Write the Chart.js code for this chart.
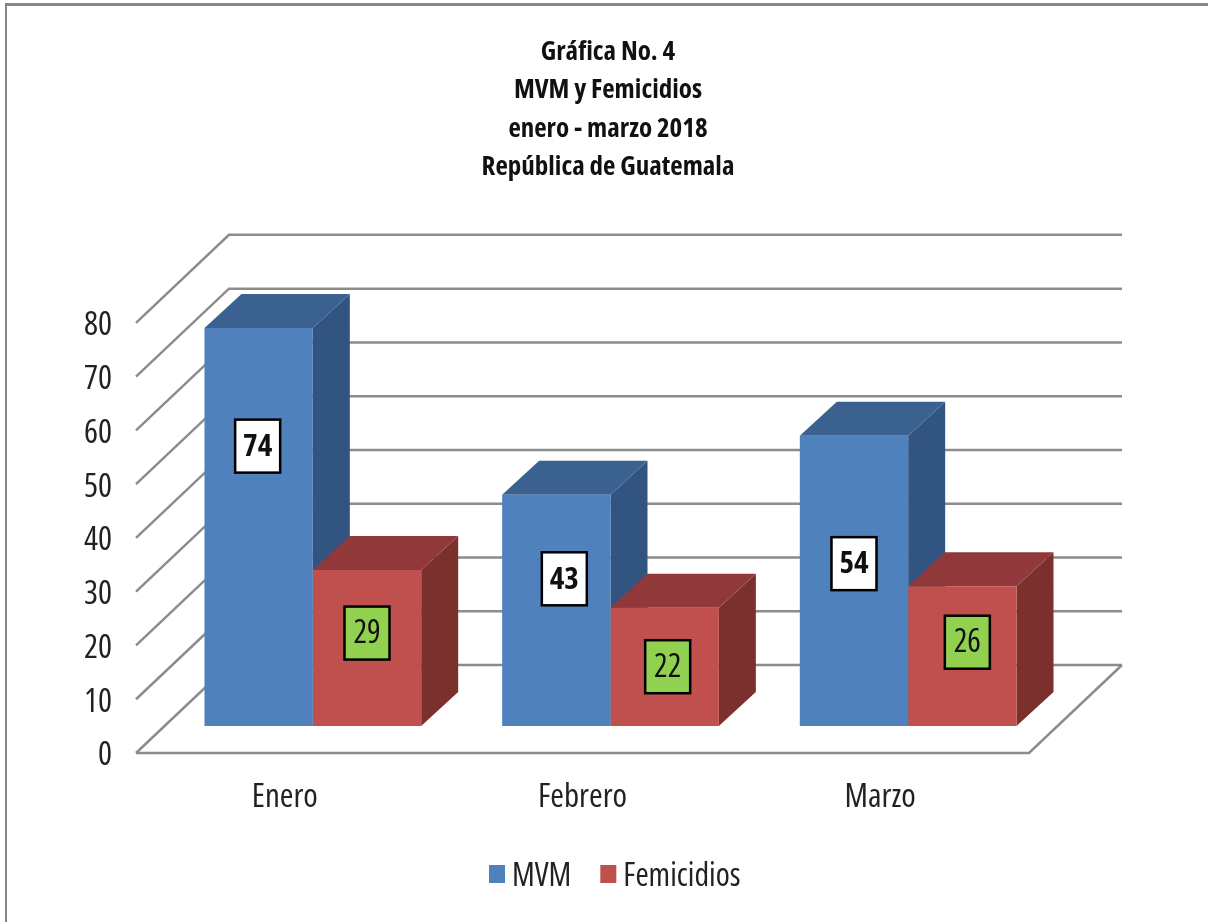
<!DOCTYPE html>
<html>
<head>
<meta charset="utf-8">
<title>MVM y Femicidios</title>
<script src="https://cdn.jsdelivr.net/npm/chart.js@4"></script>
<style>
  html, body { margin: 0; padding: 0; background: #fff; overflow: hidden; }
  #wrap { position: relative; width: 1208px; height: 922px; }
  #frame { position: absolute; left: 5px; top: 3px; right: 0; bottom: 0; border-left: 2px solid #868686; border-top: 3px solid #868686; }
  canvas { position: absolute; left: 0; top: 0; }
</style>
</head>
<body>
<div id="wrap">
  <div id="frame"></div>
  <canvas id="chart" width="1208" height="922"></canvas>
</div>
<script>
const titleLines = ['Gráfica No. 4', 'MVM y Femicidios', 'enero - marzo 2018', 'República de Guatemala'];
const months = ['Enero', 'Febrero', 'Marzo'];
const mvm = [74, 43, 54];
const femicidios = [29, 22, 26];

const FONT = '"Open Sans", sans-serif';
const GRID = '#8c8c8c';
const TEXT = '#222';

// fake 3D depth, px
const wall = { dx: 93, dy: 61 };   // back wall, from the scale's own y
const front = { dx: 28, dy: 27 };  // front floor edge
const depth = { dx: 37, dy: 34 };  // bar depth

// where each value box sits relative to the bar top (hand placed in the original)
const labelShift = [
  { dx: [-1, 8, 0], dy: [118, 84, 128], fill: '#ffffff', font: 'bold condensed 31px ' + FONT },
  { dx: [0, 3, 5], dy: [63, 59, 56], fill: '#92d050', font: 'condensed 32px ' + FONT }
];

const faces = [
  { top: '#3b6190', side: '#325480' },
  { top: '#91393a', side: '#7c302e' }
];

const poly = (ctx, pts, fill) => {
  ctx.beginPath();
  pts.forEach((p, i) => i ? ctx.lineTo(p[0], p[1]) : ctx.moveTo(p[0], p[1]));
  ctx.closePath();
  ctx.fillStyle = fill;
  ctx.fill();
};

const box3d = {
  id: 'box3d',
  beforeDatasetsDraw(chart) {
    const { ctx, chartArea: a, scales: { y } } = chart;
    const frontX = a.left - front.dx, backX = a.left - front.dx + wall.dx;
    const rightX = a.right + 65;
    ctx.save();
    ctx.strokeStyle = GRID;
    ctx.lineWidth = 2.5;
    y.ticks.forEach(t => {
      const py = y.getPixelForValue(t.value);
      ctx.beginPath();
      ctx.moveTo(frontX, py + front.dy);
      ctx.lineTo(backX, py - wall.dy);
      ctx.lineTo(rightX, py - wall.dy);
      if (t.value === 0) {
        ctx.moveTo(frontX, py + front.dy);
        ctx.lineTo(rightX - wall.dx, py + front.dy);
        ctx.lineTo(rightX, py - wall.dy);
      }
      ctx.stroke();
    });
    // bar tops and sides go under the fronts
    chart.data.datasets.forEach((ds, d) => {
      chart.getDatasetMeta(d).data.forEach(bar => {
        const l = bar.x - bar.width / 2, r = bar.x + bar.width / 2;
        poly(ctx, [[r, bar.y], [r + depth.dx, bar.y - depth.dy], [r + depth.dx, bar.base - depth.dy], [r, bar.base]], faces[d].side);
        poly(ctx, [[l, bar.y], [l + depth.dx, bar.y - depth.dy], [r + depth.dx, bar.y - depth.dy], [r, bar.y]], faces[d].top);
      });
    });
    ctx.restore();
  },
  afterDatasetsDraw(chart) {
    const { ctx } = chart;
    ctx.save();
    ctx.textAlign = 'center';
    ctx.textBaseline = 'middle';
    chart.data.datasets.forEach((ds, d) => {
      const s = labelShift[d];
      chart.getDatasetMeta(d).data.forEach((bar, i) => {
        const cx = bar.x + s.dx[i], cy = bar.y + s.dy[i];
        ctx.fillStyle = s.fill;
        ctx.fillRect(cx - 22.5, cy - 26.5, 45, 53);
        ctx.strokeStyle = '#000';
        ctx.lineWidth = 2.5;
        ctx.strokeRect(cx - 22.5, cy - 26.5, 45, 53);
        ctx.fillStyle = '#111';
        ctx.font = s.font;
        ctx.fillText(ds.data[i], cx, cy + 1);
      });
    });
    ctx.restore();
  },
  // built-in legend can't do the tight gap between swatch and text
  afterDraw(chart) {
    const { ctx } = chart;
    ctx.save();
    ctx.font = 'condensed 32px ' + FONT;
    ctx.textBaseline = 'middle';
    let x = 489;
    chart.data.datasets.forEach(ds => {
      ctx.fillStyle = ds.backgroundColor;
      ctx.fillRect(x, 865, 16, 18);
      x += 23;
      ctx.fillStyle = TEXT;
      ctx.fillText(ds.label, x, 877);
      x += ctx.measureText(ds.label).width + 29;
    });
    ctx.restore();
  }
};

new Chart(document.getElementById('chart'), {
  type: 'bar',
  data: {
    labels: months,
    datasets: [
      { label: 'MVM', data: mvm, backgroundColor: '#4f81bd' },
      { label: 'Femicidios', data: femicidios, backgroundColor: '#c0504d' }
    ]
  },
  plugins: [box3d],
  options: {
    responsive: false,
    animation: false,
    devicePixelRatio: 1,
    layout: { padding: { left: 8 } },
    datasets: { bar: { barPercentage: 1, categoryPercentage: 0.728 } },
    plugins: {
      tooltip: { enabled: false },
      legend: { display: false },
      title: {
        display: true,
        text: titleLines,
        color: '#111',
        // weight slot also carries the stretch keyword into the canvas font string
        font: { family: FONT, size: 27, weight: 'bold condensed', lineHeight: 1.42 },
        padding: { top: 33, bottom: 109.5 }
      }
    },
    scales: {
      x: {
        grid: { display: false },
        border: { display: false },
        ticks: { color: TEXT, font: { family: FONT, size: 33, weight: 'condensed' }, labelOffset: -28, padding: 44, maxRotation: 0 },
        afterFit(s) { s.height = 196; }
      },
      y: {
        min: 0,
        max: 80,
        grid: { display: false },
        border: { display: false },
        ticks: { stepSize: 10, color: TEXT, font: { family: FONT, size: 33, weight: 'condensed' }, labelOffset: 30, padding: 44 },
        afterFit(s) { s.width = 156; }
      },
      // empty axis on the right, only to hold the plot's right margin
      spacer: {
        position: 'right',
        grid: { display: false },
        border: { display: false },
        ticks: { display: false },
        afterFit(s) { s.width = 151; }
      }
    }
  }
});
</script>
</body>
</html>
